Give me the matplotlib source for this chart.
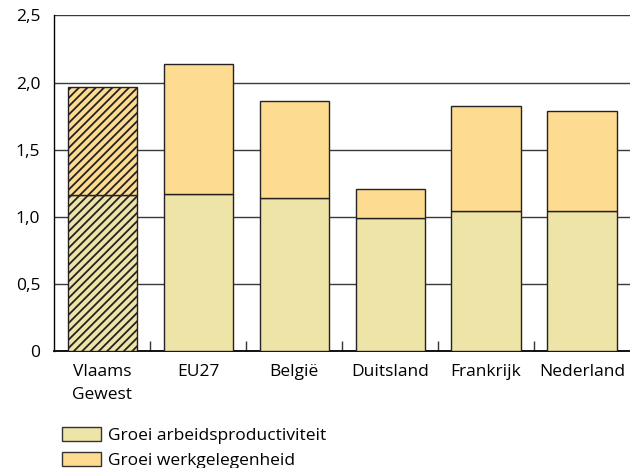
import matplotlib
matplotlib.use("Agg")
import matplotlib.pyplot as plt
from matplotlib.patches import Patch
import numpy as np

categories = ["Vlaams\nGewest", "EU27", "België", "Duitsland", "Frankrijk", "Nederland"]
productiviteit = [1.16, 1.17, 1.14, 0.99, 1.045, 1.04]
werkgelegenheid = [0.81, 0.97, 0.725, 0.22, 0.78, 0.745]
yticks = [0, 0.5, 1.0, 1.5, 2.0, 2.5]
ytick_labels = ["0", "0,5", "1,0", "1,5", "2,0", "2,5"]

c_prod = "#EEE4A8"
c_werk = "#FDDB90"

plt.rcParams['font.family'] = ['Open Sans', 'DejaVu Sans']
plt.rcParams['hatch.linewidth'] = 1.3

FS = 12.5

fig = plt.figure(figsize=(6.3, 4.68), dpi=100)
ax = fig.add_axes([0.086, 0.25, 0.914, 0.717])

x = np.arange(len(categories))
w = 0.72
b1 = ax.bar(x, productiviteit, w, color=c_prod, edgecolor="#222222", linewidth=1.0, zorder=3)
b2 = ax.bar(x, werkgelegenheid, w, bottom=productiviteit, color=c_werk, edgecolor="#222222", linewidth=1.0, zorder=3)
for b in (b1[0], b2[0]):
    b.set_hatch("////")

ax.set_xlim(-0.5, len(categories) - 0.5)
ax.set_ylim(0, 2.5)
ax.set_yticks(yticks)
ax.set_yticklabels(ytick_labels, fontsize=FS)
ax.tick_params(axis='y', length=0, pad=10)
ax.yaxis.grid(True, color="#3a3a3a", linewidth=1.0, zorder=0)
ax.set_axisbelow(True)

ax.set_xticks(x)
ax.set_xticklabels(categories, fontsize=FS, linespacing=1.65)
ax.tick_params(axis='x', length=0, pad=9)
ax.set_xticks(np.arange(0.5, len(categories) - 0.5, 1), minor=True)
ax.tick_params(axis='x', which='minor', direction='in', length=7, width=1.0, color="#333333")

for s in ("top", "right"):
    ax.spines[s].set_visible(False)
ax.spines["left"].set_linewidth(1.0)
ax.spines["bottom"].set_linewidth(1.3)

handles = [Patch(facecolor=c_prod, edgecolor="#333333", label="Groei arbeidsproductiviteit"),
           Patch(facecolor=c_werk, edgecolor="#333333", label="Groei werkgelegenheid")]
fig.legend(handles=handles, loc="upper left", bbox_to_anchor=(0.099, 1 - 427 / 468),
           frameon=False, fontsize=FS, handlelength=2.25, handleheight=0.9, handletextpad=0.4,
           labelspacing=0.45, borderaxespad=0, borderpad=0)

fig.savefig("out.png", dpi=100)
